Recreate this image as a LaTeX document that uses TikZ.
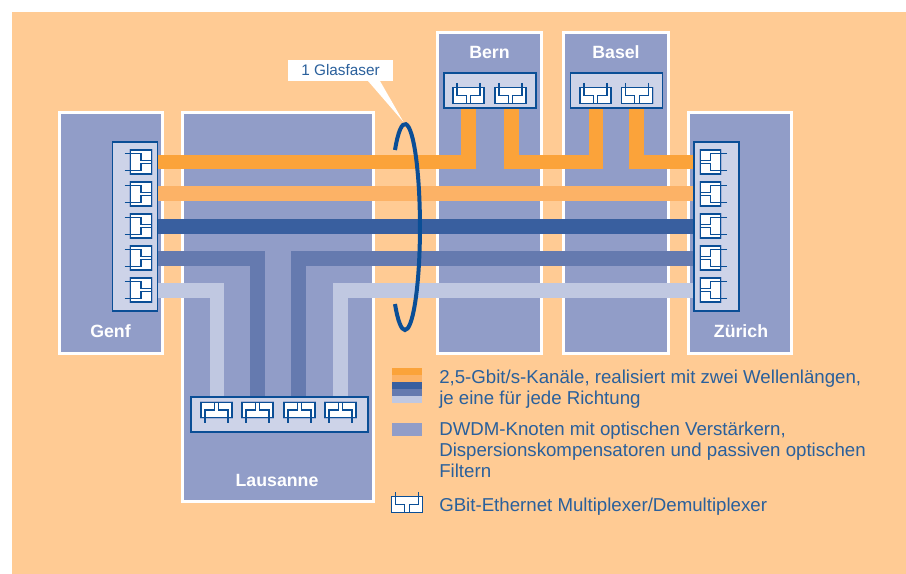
\documentclass[tikz,border=0pt]{standalone}
\usepackage{fontspec}
\setmainfont{Liberation Sans}
\usetikzlibrary{positioning}

\definecolor{bgorange}{HTML}{FFCB94}
\definecolor{sitefill}{HTML}{919DC8}
\definecolor{panelfill}{HTML}{CDD3E8}
\definecolor{darkline}{HTML}{0A4E96}
\definecolor{halo}{HTML}{A4B2D6}
\definecolor{textblue}{HTML}{2A609C}
\definecolor{chanA}{HTML}{FBA33A}
\definecolor{chanB}{HTML}{FCB266}
\definecolor{chanC}{HTML}{395F9F}
\definecolor{chanD}{HTML}{657AAF}
\definecolor{chanE}{HTML}{C0C8E1}

\tikzset{
  site/.style 2 args={fill=sitefill, draw=white, line width=2.25pt, inner sep=0pt,
    minimum width=#1*0.75pt, minimum height=#2*0.75pt},
  panel/.style 2 args={fill=panelfill, draw=darkline, line width=1pt, inner sep=0pt,
    minimum width=#1*0.75pt, minimum height=#2*0.75pt},
  sitelabel/.style={text=white, font=\fontsize{13.3}{15}\selectfont\bfseries, inner sep=0pt},
  legendtext/.style={text=textblue, font=\fontsize{14}{15.75}\selectfont, align=left,
    inner sep=0pt, anchor=north west},
  channel/.style={line width=10.9pt, line join=miter},
  muxline/.style={draw=darkline, line width=0.9pt},
  muxhalo/.style={fill=halo},
  pics/muxunit/.style={code={
    \path[muxhalo] (-16.5,-8.75) rectangle (16.5,8.75);
    \filldraw[muxline, fill=white] (-15.5,-7.75) rectangle (15.5,7.75);
    \draw[muxline] (-11.5,-12.5) -- (-11.5,0) -- (-2.3,0) -- (-2.3,7.75);
    \draw[muxline] (11.5,-12.5) -- (11.5,0) -- (2.3,0) -- (2.3,7.75);
  }},
}

\begin{document}
\begin{tikzpicture}[x=0.75pt, y=-0.75pt]
  \useasboundingbox (0,0) rectangle (906,574);
  \fill[bgorange] (12,12) rectangle (906,574);

  % standorte
  \node[site={103}{241}] (genf) at (110.5,233) {};
  \node[site={191}{389}] (lausanne) at (278,307) {};
  \node[site={104.5}{321}] (bern) at (489.25,193) {};
  \node[site={104.5}{321}] (basel) at (616,193) {};
  \node[site={103.5}{241}] (zuerich) at (740,233) {};

  \node[sitelabel] (genflabel) at (110.5,331) {Genf};
  \node[sitelabel] (lausannelabel) at (277,480) {Lausanne};
  \node[sitelabel] (bernlabel) at (489.5,52) {Bern};
  \node[sitelabel] (basellabel) at (616,52) {Basel};
  \node[sitelabel] (zuerichlabel) at (741,331) {Zürich};

  % anschlusspunkte der kanaele
  \foreach \i/\yy in {1/162,2/193.5,3/226.5,4/258.5,5/290.5} {
    \coordinate (g\i) at (157,\yy);
    \coordinate (z\i) at (694,\yy);
  }
  \coordinate (b1) at (468.5,108);
  \coordinate (b2) at (511.5,108);
  \coordinate (s1) at (596,108);
  \coordinate (s2) at (636.5,108);
  \coordinate (m1) at (550,162);
  \foreach \i/\xx in {1/217,2/257.5,3/298.5,4/340.5}
    \coordinate (l\i) at (\xx,397);

  % kanaele
  \draw[channel, chanA] (g1) -| (b1);
  \draw[channel, chanA] (b2) |- (m1) -| (s1);
  \draw[channel, chanA] (s2) |- (z1);
  \draw[channel, chanB] (g2) -- (z2);
  \draw[channel, chanC] (g3) -- (z3);
  \draw[channel, chanD] (g4) -| (l2);
  \draw[channel, chanD] (l3) |- (z4);
  \draw[channel, chanE] (g5) -| (l1);
  \draw[channel, chanE] (l4) |- (z5);

  % panels mit multiplexern
  \node[panel={45}{169}] (genfpanel) at (135,226.5) {};
  \node[panel={45}{169}] (zuerichpanel) at (716.5,226.5) {};
  \node[panel={92}{35}] (bernpanel) at (490,90.5) {};
  \node[panel={92}{35}] (baselpanel) at (616.5,90.5) {};
  \node[panel={177}{35}] (lausannepanel) at (279.5,414.5) {};

  \foreach \yy in {162,194,226,258,290} {
    \pic[rotate=90, xscale=0.77, yscale=1.32] at (141,\yy) {muxunit};
    \pic[rotate=-90, xscale=0.77, yscale=1.32] at (710.5,\yy) {muxunit};
  }
  \foreach \xx in {468.5,510.5,595.5,637}
    \pic at (\xx,95.5) {muxunit};
  \foreach \xx in {216.5,257.5,299.5,340.5}
    \pic[rotate=180] at (\xx,410) {muxunit};

  % glasfaser
  \draw[darkline, line width=3pt] (395,150)
    arc[start angle=-131.6, end angle=131.6, x radius=15, y radius=103];

  \node[fill=white, inner sep=0pt, minimum width=78.75pt, minimum height=15.75pt,
    text=textblue, font=\fontsize{11.5}{12}\selectfont] (glas) at (340.5,70.5) {1 Glasfaser};
  \coordinate (glastip) at (403.5,122);
  \fill[white] (368,81) -- (glastip) -- (380,81) -- cycle;

  % legende
  \foreach \i/\col in {0/chanA,1/chanB,2/chanC,3/chanD,4/chanE}
    \fill[\col] (392,368+7*\i) rectangle (422,375+7*\i);
  \fill[sitefill] (392,423) rectangle (422,436);
  \begin{scope}[muxhalo/.style={}]
    \pic at (407,504.5) {muxunit};
  \end{scope}

  \node[legendtext] (legendkanal) at (439,369.5) {2,5-Gbit/s-Kanäle, realisiert mit zwei Wellenlängen,\\je eine für jede Richtung};
  \node[legendtext] (legendknoten) at (439,421.5) {DWDM-Knoten mit optischen Verstärkern,\\Dispersionskompensatoren und passiven optischen\\Filtern};
  \node[legendtext] (legendmux) at (439,497.5) {GBit-Ethernet Multiplexer/Demultiplexer};
\end{tikzpicture}
\end{document}
